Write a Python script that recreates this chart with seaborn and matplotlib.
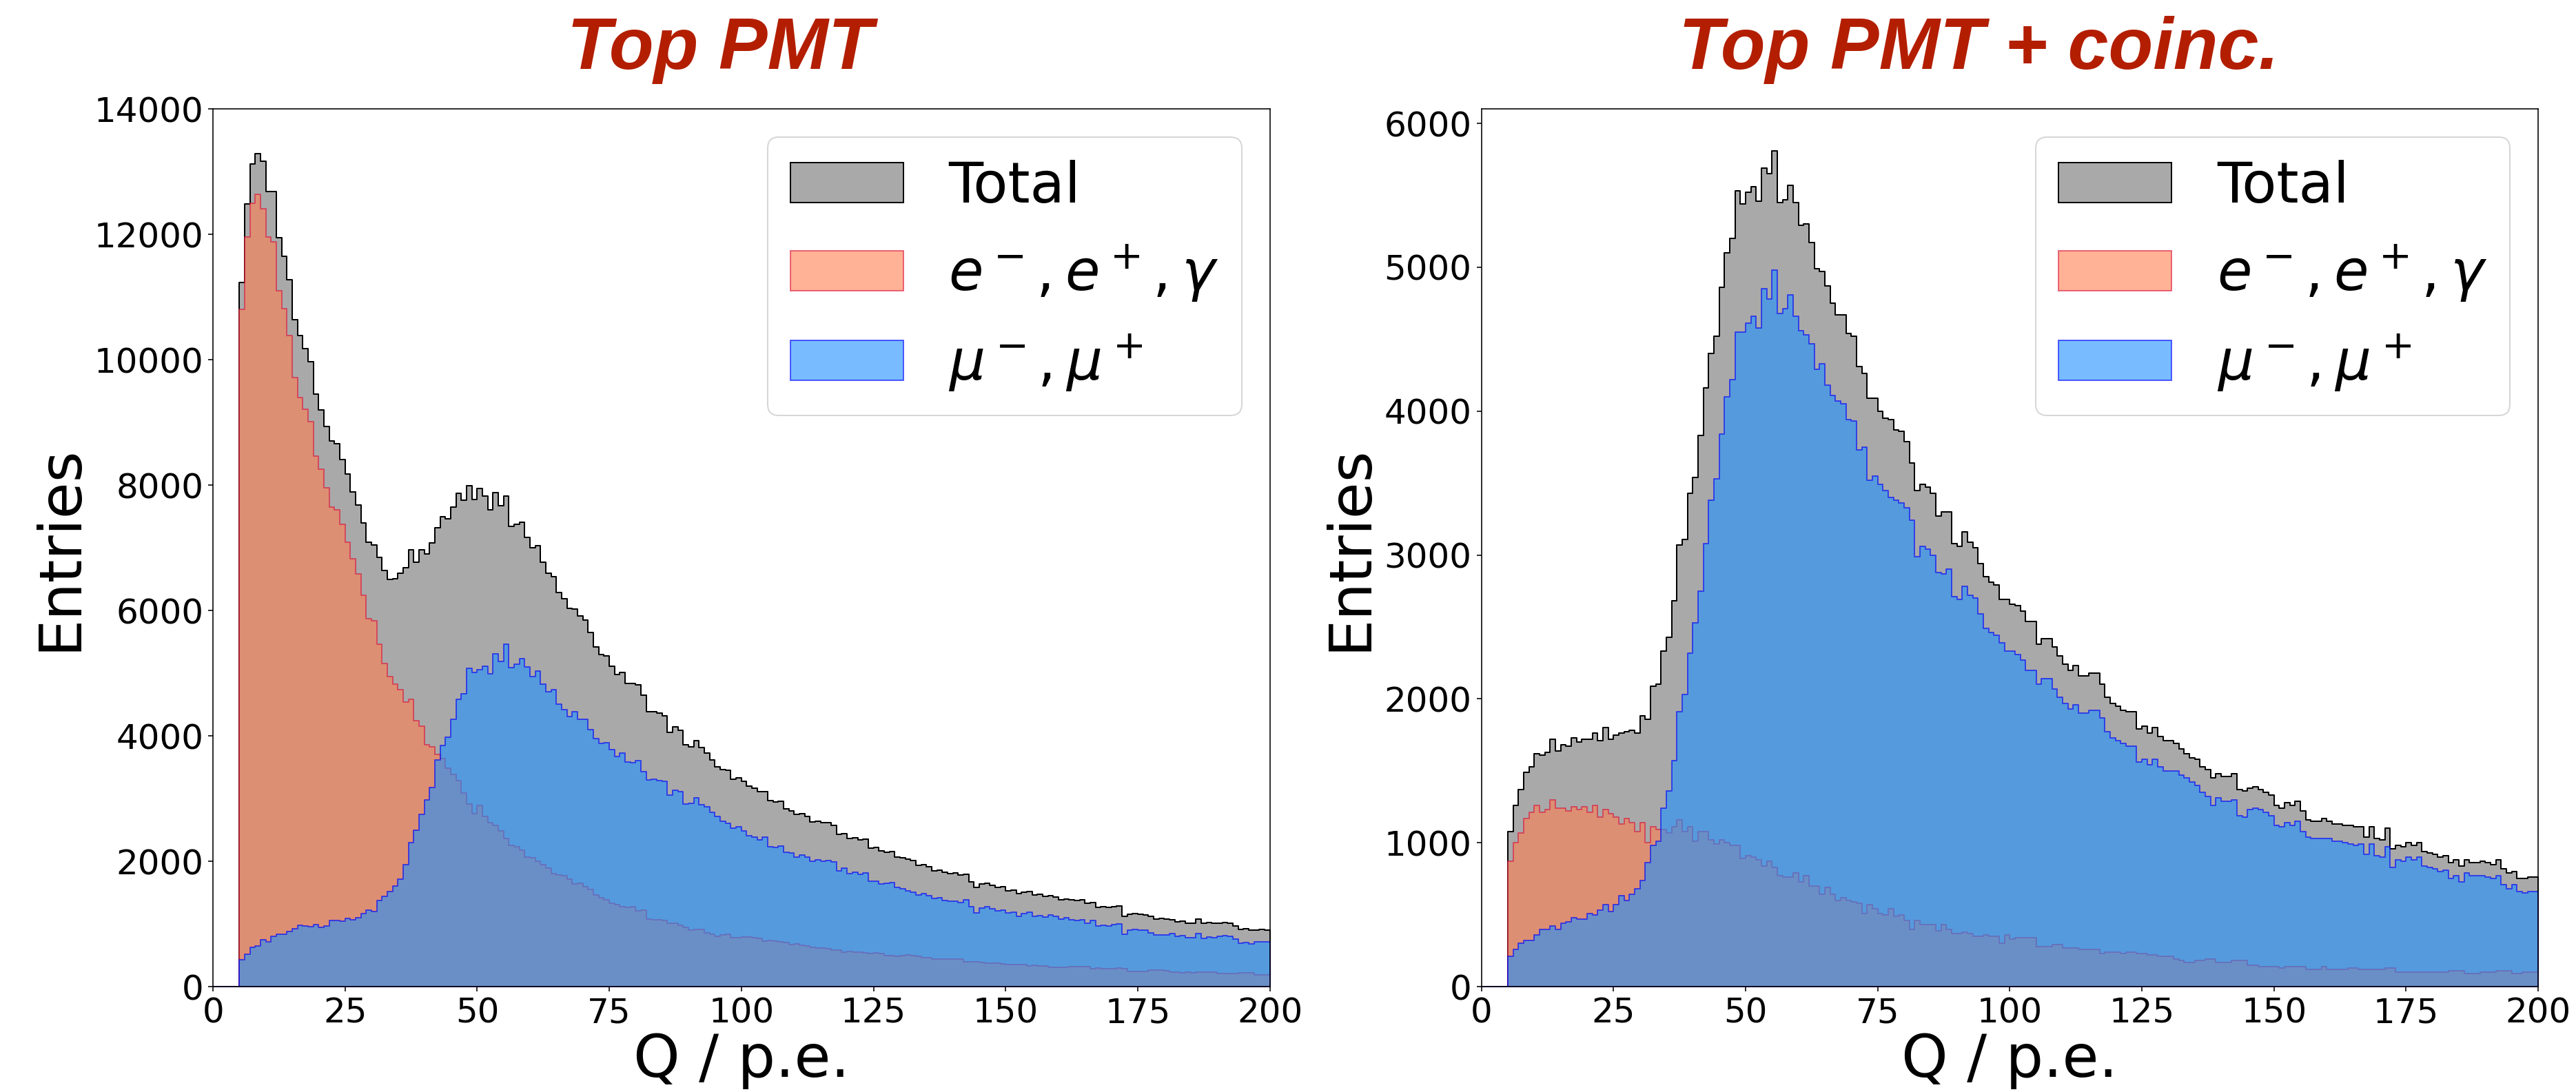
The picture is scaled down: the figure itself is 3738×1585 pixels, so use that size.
import numpy as np
import pandas as pd
import matplotlib
matplotlib.use("Agg")
import matplotlib.pyplot as plt
import seaborn as sns

# Charge histograms, 1 p.e. bins over 0..200; entries start at the 5 p.e. threshold (bins 5..199)
charge_centres = np.arange(5, 200) + 0.5

# ---- Top PMT -------------------------------------------------------------
top_total = [
    11230, 12480, 13120, 13290, 13160, 12680, 12680, 11940, 11650, 11270,
    10640, 10380, 10180, 9970, 9450, 9200, 8930, 8700, 8660, 8410,
    8180, 7890, 7680, 7400, 7090, 7040, 6850, 6640, 6490, 6510,
    6590, 6680, 6970, 6770, 6970, 6900, 7080, 7320, 7490, 7460,
    7650, 7870, 7760, 7990, 7770, 7950, 7830, 7610, 7880, 7670,
    7820, 7340, 7370, 7410, 7170, 7000, 7030, 6770, 6590, 6540,
    6290, 6190, 6030, 6020, 5910, 5850, 5650, 5420, 5300, 5280,
    5110, 4980, 5010, 4840, 4840, 4810, 4650, 4380, 4380, 4360,
    4320, 4060, 4140, 4090, 3860, 3820, 3920, 3810, 3730, 3620,
    3510, 3460, 3450, 3310, 3330, 3270, 3200, 3160, 3110, 3110,
    2970, 2950, 2960, 2840, 2800, 2750, 2760, 2720, 2630, 2640,
    2620, 2620, 2570, 2430, 2440, 2360, 2370, 2340, 2350, 2210,
    2220, 2160, 2140, 2150, 2070, 2050, 2030, 2010, 1940, 1950,
    1910, 1850, 1860, 1820, 1800, 1810, 1780, 1790, 1670, 1580,
    1640, 1650, 1620, 1580, 1590, 1530, 1540, 1480, 1510, 1520,
    1460, 1470, 1440, 1450, 1430, 1390, 1400, 1390, 1370, 1380,
    1330, 1340, 1260, 1270, 1260, 1280, 1290, 1120, 1150, 1160,
    1150, 1140, 1120, 1080, 1090, 1080, 1070, 1030, 1040, 1010,
    1010, 1080, 1010, 1020, 1010, 1010, 1020, 1010, 970, 910,
    920, 900, 900, 910, 900,
]
top_egamma = [
    10800, 11960, 12490, 12640, 12410, 11960, 11880, 11100, 10810, 10390,
    9720, 9400, 9210, 9010, 8460, 8250, 7960, 7650, 7610, 7370,
    7090, 6820, 6580, 6240, 5870, 5840, 5460, 5150, 4940, 4820,
    4740, 4540, 4580, 4240, 4150, 3860, 3830, 3700, 3640, 3480,
    3390, 3290, 3090, 2910, 2760, 2890, 2720, 2620, 2570, 2480,
    2360, 2250, 2230, 2180, 2070, 2050, 2000, 1950, 1890, 1800,
    1780, 1770, 1720, 1640, 1650, 1590, 1550, 1460, 1420, 1390,
    1330, 1310, 1280, 1260, 1270, 1210, 1220, 1080, 1070, 1070,
    1050, 1010, 1010, 980, 950, 900, 910, 910, 860, 840,
    800, 820, 840, 780, 780, 790, 790, 780, 770, 730,
    740, 730, 720, 700, 670, 680, 660, 650, 630, 620,
    620, 610, 580, 580, 550, 560, 550, 545, 535, 530,
    535, 525, 490, 495, 485, 490, 505, 500, 480, 465,
    460, 445, 440, 445, 440, 445, 440, 400, 395, 400,
    385, 370, 375, 370, 365, 355, 350, 355, 350, 335,
    340, 335, 330, 310, 305, 310, 305, 320, 315, 318,
    315, 290, 292, 288, 290, 285, 292, 288, 245, 244,
    246, 242, 262, 260, 264, 258, 226, 228, 224, 226,
    225, 235, 236, 233, 234, 208, 210, 206, 208, 217,
    216, 218, 190, 192, 190,
]
top_muon = [
    430, 520, 630, 650, 750, 720, 800, 840, 840, 880,
    920, 980, 970, 960, 990, 950, 970, 1050, 1050, 1040,
    1090, 1070, 1100, 1160, 1220, 1200, 1370, 1440, 1520, 1600,
    1720, 1950, 2300, 2500, 2750, 2980, 3180, 3620, 3850, 3980,
    4260, 4580, 4670, 5080, 5010, 5060, 5110, 4990, 5310, 5190,
    5460, 5090, 5140, 5230, 5100, 4950, 5030, 4820, 4700, 4740,
    4510, 4420, 4310, 4380, 4260, 4260, 4100, 3960, 3880, 3890,
    3780, 3670, 3730, 3580, 3570, 3600, 3430, 3300, 3310, 3290,
    3270, 3050, 3130, 3110, 2910, 2920, 3010, 2900, 2870, 2780,
    2710, 2640, 2610, 2530, 2550, 2480, 2410, 2380, 2340, 2380,
    2230, 2220, 2240, 2140, 2130, 2070, 2100, 2070, 2000, 2020,
    2000, 2010, 1990, 1850, 1890, 1800, 1820, 1795, 1815, 1680,
    1685, 1635, 1650, 1655, 1585, 1560, 1525, 1510, 1460, 1485,
    1450, 1405, 1420, 1375, 1360, 1365, 1340, 1390, 1275, 1180,
    1255, 1280, 1245, 1210, 1225, 1175, 1190, 1125, 1160, 1185,
    1120, 1135, 1110, 1140, 1125, 1080, 1095, 1070, 1055, 1062,
    1015, 1050, 968, 982, 970, 995, 998, 832, 905, 916,
    904, 898, 858, 820, 826, 822, 844, 802, 816, 784,
    785, 845, 774, 787, 776, 802, 810, 804, 762, 693,
    704, 682, 710, 718, 710,
]

# ---- Top PMT + coincidence ----------------------------------------------
coinc_total = [
    1080, 1260, 1370, 1490, 1530, 1620, 1610, 1630, 1720, 1640,
    1680, 1670, 1730, 1700, 1720, 1720, 1760, 1710, 1800, 1720,
    1750, 1760, 1770, 1780, 1760, 1880, 1860, 2090, 2100, 2330,
    2430, 2680, 3070, 3110, 3430, 3540, 3830, 4160, 4400, 4520,
    4860, 5100, 5200, 5530, 5440, 5520, 5560, 5460, 5690, 5650,
    5810, 5450, 5470, 5570, 5450, 5290, 5300, 5170, 4990, 4970,
    4870, 4750, 4670, 4670, 4540, 4520, 4310, 4260, 4090, 4090,
    4000, 3950, 3940, 3870, 3860, 3790, 3640, 3450, 3490, 3470,
    3430, 3270, 3300, 3300, 3080, 3060, 3160, 3090, 3050, 2940,
    2850, 2810, 2790, 2690, 2690, 2660, 2650, 2610, 2540, 2540,
    2380, 2420, 2420, 2360, 2300, 2240, 2200, 2230, 2160, 2160,
    2180, 2180, 2100, 2010, 1970, 1950, 1920, 1910, 1910, 1790,
    1810, 1760, 1800, 1740, 1710, 1710, 1690, 1650, 1620, 1590,
    1580, 1530, 1510, 1450, 1480, 1460, 1460, 1480, 1370, 1360,
    1380, 1390, 1370, 1350, 1330, 1260, 1240, 1280, 1260, 1290,
    1220, 1160, 1150, 1150, 1170, 1150, 1130, 1130, 1120, 1120,
    1110, 1110, 1040, 1110, 1030, 1020, 1100, 960, 980, 970,
    1000, 980, 1000, 940, 930, 920, 900, 910, 860, 880,
    840, 880, 860, 860, 870, 860, 850, 880, 820, 790,
    800, 750, 750, 760, 760,
]
coinc_egamma = [
    870, 1000, 1070, 1170, 1210, 1260, 1210, 1230, 1300, 1240,
    1240, 1220, 1250, 1230, 1250, 1210, 1260, 1180, 1230, 1200,
    1180, 1130, 1170, 1140, 1080, 1140, 1000, 1110, 1090, 1090,
    1070, 1110, 1160, 1080, 1110, 1010, 1080, 1080, 1020, 990,
    1020, 1000, 980, 980, 890, 910, 900, 880, 840, 870,
    830, 770, 760, 760, 790, 730, 770, 700, 700, 640,
    690, 640, 600, 620, 600, 590, 580, 510, 570, 540,
    510, 500, 540, 490, 500, 460, 400, 460, 430, 430,
    430, 390, 430, 400, 370, 370, 380, 370, 350, 350,
    360, 350, 350, 300, 360, 330, 340, 340, 340, 340,
    280, 280, 280, 290, 290, 270, 270, 270, 260, 260,
    260, 260, 230, 240, 240, 240, 230, 240, 240, 230,
    230, 220, 220, 210, 210, 210, 190, 180, 170, 170,
    180, 180, 190, 190, 170, 170, 170, 180, 180, 180,
    150, 150, 140, 140, 140, 140, 130, 140, 140, 140,
    140, 120, 120, 120, 140, 120, 120, 120, 120, 130,
    130, 120, 120, 120, 120, 120, 130, 130, 100, 100,
    100, 100, 100, 100, 100, 100, 100, 100, 110, 110,
    110, 90, 90, 90, 100, 100, 100, 110, 110, 110,
    90, 90, 100, 100, 100,
]
coinc_muon = [
    210, 260, 300, 320, 320, 360, 400, 400, 420, 400,
    440, 450, 480, 470, 470, 510, 500, 530, 570, 520,
    570, 630, 600, 640, 680, 740, 860, 980, 1010, 1240,
    1360, 1570, 1910, 2030, 2320, 2530, 2750, 3080, 3380, 3530,
    3840, 4100, 4220, 4550, 4550, 4610, 4660, 4580, 4850, 4780,
    4980, 4680, 4710, 4810, 4660, 4560, 4530, 4470, 4290, 4330,
    4180, 4110, 4070, 4050, 3940, 3930, 3730, 3750, 3520, 3550,
    3490, 3450, 3400, 3380, 3360, 3330, 3240, 2990, 3060, 3040,
    3000, 2880, 2870, 2900, 2710, 2690, 2780, 2720, 2700, 2590,
    2490, 2460, 2440, 2390, 2330, 2330, 2310, 2270, 2200, 2200,
    2100, 2140, 2140, 2070, 2010, 1970, 1930, 1960, 1900, 1900,
    1920, 1920, 1870, 1770, 1730, 1710, 1690, 1670, 1670, 1560,
    1580, 1540, 1580, 1530, 1500, 1500, 1500, 1470, 1450, 1420,
    1400, 1350, 1320, 1260, 1310, 1290, 1290, 1300, 1190, 1180,
    1230, 1240, 1230, 1210, 1190, 1120, 1110, 1140, 1120, 1150,
    1080, 1040, 1030, 1030, 1030, 1030, 1010, 1010, 1000, 990,
    980, 990, 920, 990, 910, 900, 970, 830, 880, 870,
    900, 880, 900, 840, 830, 820, 800, 810, 750, 770,
    730, 790, 770, 770, 770, 760, 750, 770, 710, 680,
    710, 660, 650, 660, 660,
]

panel_titles = ["Top PMT", "Top PMT + coinc."]
title_x = [0.48, 0.471]
panel_ymax = [14000, None]
series_labels = ["Total", r"$e^-,e^+,\gamma$", r"$\mu^-,\mu^+$"]
x_ticks = [0, 25, 50, 75, 100, 125, 150, 175, 200]

sns.set_style("ticks", rc={
    "axes.edgecolor": "black",
    "axes.linewidth": 0.8,
    "text.color": "black",
    "axes.labelcolor": "black",
    "xtick.color": "black",
    "ytick.color": "black",
    "xtick.direction": "out",
    "ytick.direction": "out",
    "xtick.major.size": 3.5,
    "ytick.major.size": 3.5,
})
plt.rcParams["font.family"] = ["DejaVu Sans"]
plt.rcParams["mathtext.fontset"] = "dejavusans"

DPI = 144
fig, axes = plt.subplots(1, 2, figsize=(3738 / DPI, 1585 / DPI), dpi=DPI)
fig.subplots_adjust(left=0.0827, right=0.9853, bottom=0.0965, top=0.9003, wspace=0.2003)

styles = [
    dict(color="darkgray", edgecolor="black", alpha=1.0),
    dict(color="coral", edgecolor=(0.86, 0.08, 0.24, 0.6), alpha=0.6),
    dict(color="dodgerblue", edgecolor=(0.0, 0.0, 1.0, 0.6), alpha=0.6),
]

panels = [
    (top_total, top_egamma, top_muon),
    (coinc_total, coinc_egamma, coinc_muon),
]

for ax, title, tx, ymax, series in zip(axes, panel_titles, title_x, panel_ymax, panels):
    for values, label, style in zip(series, series_labels, styles):
        frame = pd.DataFrame({"Q": charge_centres, "entries": np.asarray(values, dtype=float)})
        sns.histplot(
            data=frame, x="Q", weights="entries", binwidth=1, binrange=(0, 200),
            element="step", fill=True, linewidth=1.0,
            label=label, ax=ax, **style,
        )
    ax.set_xlim(0, 200)
    if ymax is not None:
        ax.set_ylim(0, ymax)
    ax.set_xticks(x_ticks)
    ax.tick_params(labelsize=25)
    ax.set_xlabel("Q / p.e.", fontsize=43, labelpad=2)
    ax.set_ylabel("Entries", fontsize=43)
    ax.legend(loc="upper right", fontsize=41)
    t = ax.set_title(title, fontsize=53, fontweight="bold", fontstyle="italic",
                     family="Liberation Sans", color="#b31e00", pad=29)
    t.set_x(tx)

fig.savefig("out.png", dpi=DPI)
